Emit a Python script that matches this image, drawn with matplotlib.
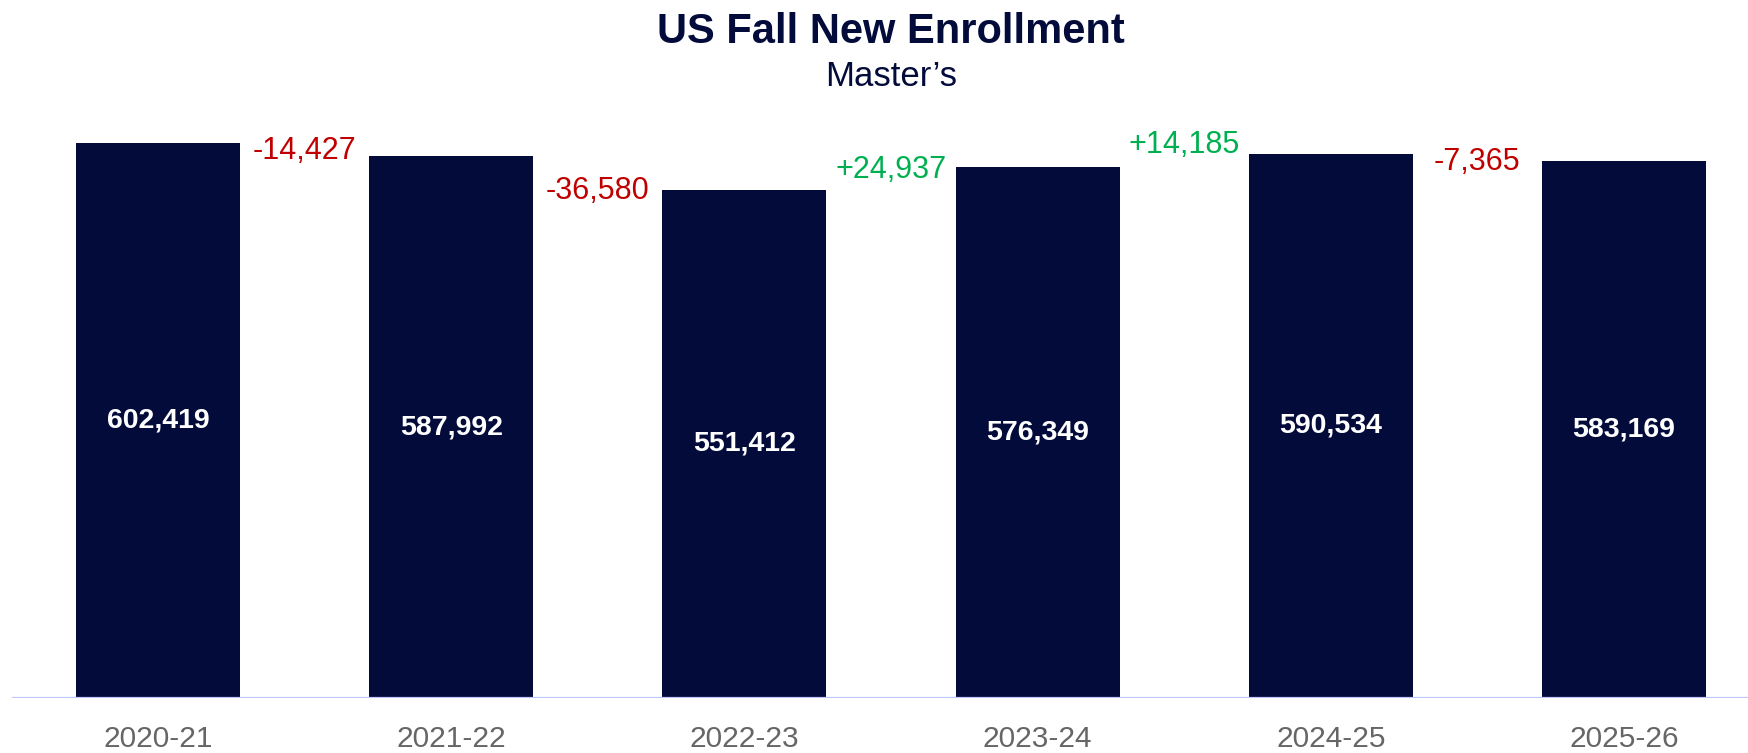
import matplotlib.pyplot as plt
from matplotlib.transforms import blended_transform_factory, offset_copy

plt.rcParams["font.family"] = ["Liberation Sans", "DejaVu Sans"]

years = ["2020-21", "2021-22", "2022-23", "2023-24", "2024-25", "2025-26"]
enrollment = [602419, 587992, 551412, 576349, 590534, 583169]
changes = ["-14,427", "-36,580", "+24,937", "+14,185", "-7,365"]
# baseline heights of the change labels, in data units
change_label_y = [585000, 541600, 564400, 591600, 573100]

NAVY = "#030b3b"
RED = "#c00000"
GREEN = "#00b050"

W, H = 1748, 753
fig = plt.figure(figsize=(W / 100, H / 100), dpi=100)

# layout in pixels
axis_y = 698
bar1_top = 143
px_per_unit = (axis_y - bar1_top) / enrollment[0]
ymax = 650000
ax_h = ymax * px_per_unit
ax_left = 12
ax = fig.add_axes([ax_left / W, (H - axis_y) / H, (W - ax_left) / W, ax_h / H])

step = 293.2
first_center = 158 - ax_left
ax.set_xlim(-first_center / step, (W - ax_left - first_center) / step)
ax.set_ylim(0, ymax)

x = list(range(len(years)))
ax.bar(x, enrollment, width=164 / step, color=NAVY, zorder=2)

for xi, v in zip(x, enrollment):
    ax.text(xi, v / 2, f"{v:,}", color="white", fontsize=20.5, fontweight="bold",
            ha="center", va="center", zorder=3)

for i, (lab, ly) in enumerate(zip(changes, change_label_y)):
    ax.text(i + 0.5, ly, lab, color=RED if lab.startswith("-") else GREEN,
            fontsize=22, ha="center", va="baseline", clip_on=False)

ax.axhline(0, color="#bfc5ff", linewidth=1.6, zorder=3)

trans = offset_copy(blended_transform_factory(ax.transData, ax.transAxes),
                    fig=fig, x=0, y=-49 * 72 / 100, units="points")
for xi, yr in zip(x, years):
    ax.text(xi, 0, yr, transform=trans, color="#666666", fontsize=21.5,
            ha="center", va="baseline")

for s in ax.spines.values():
    s.set_visible(False)
ax.set_xticks([])
ax.set_yticks([])

fig.text(891 / W, 1 - 43 / H, "US Fall New Enrollment", color=NAVY, fontsize=30,
         fontweight="bold", ha="center", va="baseline")
fig.text(891 / W, 1 - 86 / H, "Master\u2019s", color=NAVY, fontsize=25,
         ha="center", va="baseline")

fig.savefig("out.png", dpi=100)
